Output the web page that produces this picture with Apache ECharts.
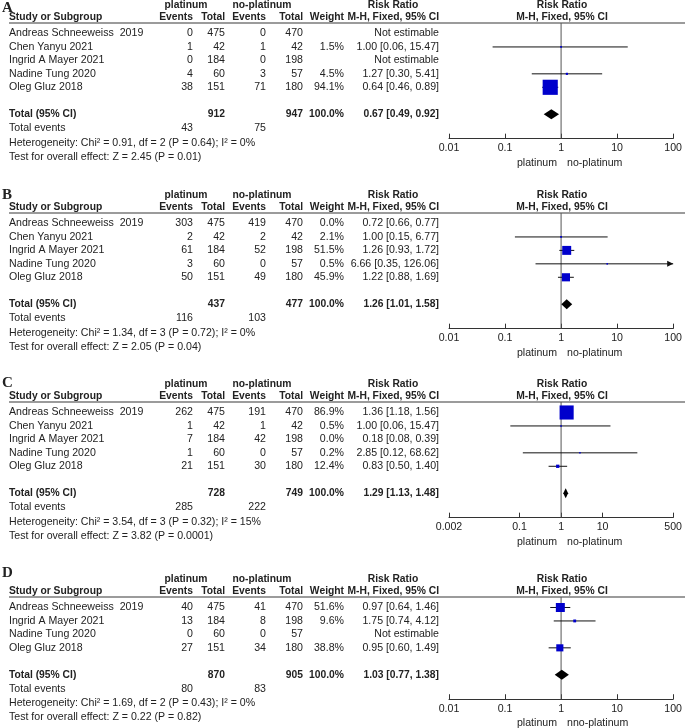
<!DOCTYPE html>
<html>
<head>
<meta charset="utf-8">
<style>html,body{margin:0;padding:0;background:#fff}#main{width:685px;height:728px}</style>
<script src="https://cdn.jsdelivr.net/npm/echarts@6/dist/echarts.min.js"></script>
</head>
<body>
<div id="main"></div>
<script>
// ---- panel A ----
const studiesA = ['Andreas Schneeweiss  2019', 'Chen Yanyu 2021', 'Ingrid A Mayer 2021', 'Nadine Tung 2020', 'Oleg Gluz 2018'];
const eventsPlatA = [0, 1, 0, 4, 38];
const totalPlatA = [475, 42, 184, 60, 151];
const eventsNoA = [0, 1, 0, 3, 71];
const totalNoA = [470, 42, 198, 57, 180];
const weightA = [null, 1.5, null, 4.5, 94.1];
const rrA = [null, 1.00, null, 1.27, 0.64];
const lowerA = [null, 0.06, null, 0.30, 0.46];
const upperA = [null, 15.47, null, 5.41, 0.89];
const totalsA = [912, 947];
const pooledA = [0.67, 0.49, 0.92];
const totalEventsA = [43, 75];
const hetA = 'Heterogeneity: Chi\u00b2 = 0.91, df = 2 (P = 0.64); I\u00b2 = 0%';
const testA = 'Test for overall effect: Z = 2.45 (P = 0.01)';

// ---- panel B ----
const studiesB = ['Andreas Schneeweiss  2019', 'Chen Yanyu 2021', 'Ingrid A Mayer 2021', 'Nadine Tung 2020', 'Oleg Gluz 2018'];
const eventsPlatB = [303, 2, 61, 3, 50];
const totalPlatB = [475, 42, 184, 60, 151];
const eventsNoB = [419, 2, 52, 0, 49];
const totalNoB = [470, 42, 198, 57, 180];
const weightB = [0.0, 2.1, 51.5, 0.5, 45.9];
const rrB = [0.72, 1.00, 1.26, 6.66, 1.22];
const lowerB = [0.66, 0.15, 0.93, 0.35, 0.88];
const upperB = [0.77, 6.77, 1.72, 126.06, 1.69];
const totalsB = [437, 477];
const pooledB = [1.26, 1.01, 1.58];
const totalEventsB = [116, 103];
const hetB = 'Heterogeneity: Chi\u00b2 = 1.34, df = 3 (P = 0.72); I\u00b2 = 0%';
const testB = 'Test for overall effect: Z = 2.05 (P = 0.04)';

// ---- panel C ----
const studiesC = ['Andreas Schneeweiss  2019', 'Chen Yanyu 2021', 'Ingrid A Mayer 2021', 'Nadine Tung 2020', 'Oleg Gluz 2018'];
const eventsPlatC = [262, 1, 7, 1, 21];
const totalPlatC = [475, 42, 184, 60, 151];
const eventsNoC = [191, 1, 42, 0, 30];
const totalNoC = [470, 42, 198, 57, 180];
const weightC = [86.9, 0.5, 0.0, 0.2, 12.4];
const rrC = [1.36, 1.00, 0.18, 2.85, 0.83];
const lowerC = [1.18, 0.06, 0.08, 0.12, 0.50];
const upperC = [1.56, 15.47, 0.39, 68.62, 1.40];
const totalsC = [728, 749];
const pooledC = [1.29, 1.13, 1.48];
const totalEventsC = [285, 222];
const hetC = 'Heterogeneity: Chi\u00b2 = 3.54, df = 3 (P = 0.32); I\u00b2 = 15%';
const testC = 'Test for overall effect: Z = 3.82 (P = 0.0001)';

// ---- panel D ----
const studiesD = ['Andreas Schneeweiss  2019', 'Ingrid A Mayer 2021', 'Nadine Tung 2020', 'Oleg Gluz 2018'];
const eventsPlatD = [40, 13, 0, 27];
const totalPlatD = [475, 184, 60, 151];
const eventsNoD = [41, 8, 0, 34];
const totalNoD = [470, 198, 57, 180];
const weightD = [51.6, 9.6, null, 38.8];
const rrD = [0.97, 1.75, null, 0.95];
const lowerD = [0.64, 0.74, null, 0.60];
const upperD = [1.46, 4.12, null, 1.49];
const totalsD = [870, 905];
const pooledD = [1.03, 0.77, 1.38];
const totalEventsD = [80, 83];
const hetD = 'Heterogeneity: Chi\u00b2 = 1.69, df = 2 (P = 0.43); I\u00b2 = 0%';
const testD = 'Test for overall effect: Z = 0.22 (P = 0.82)';

// axis tick labels
const ticksStd = [0.01, 0.1, 1, 10, 100];
const ticksC = [0.002, 0.1, 1, 10, 500];
const favoursStd = ['platinum', 'no-platinum'];
const favoursD = ['platinum', 'nno-platinum'];

const panels = [
  { letter: 'A', letterY: 8, lineY: 23, studies: studiesA, ev1: eventsPlatA, n1: totalPlatA, ev2: eventsNoA, n2: totalNoA, w: weightA, rr: rrA, lo: lowerA, hi: upperA, totals: totalsA, pooled: pooledA, tev: totalEventsA, het: hetA, test: testA, ticks: ticksStd, fav: favoursStd },
  { letter: 'B', letterY: 195, lineY: 213, studies: studiesB, ev1: eventsPlatB, n1: totalPlatB, ev2: eventsNoB, n2: totalNoB, w: weightB, rr: rrB, lo: lowerB, hi: upperB, totals: totalsB, pooled: pooledB, tev: totalEventsB, het: hetB, test: testB, ticks: ticksStd, fav: favoursStd },
  { letter: 'C', letterY: 383, lineY: 402, studies: studiesC, ev1: eventsPlatC, n1: totalPlatC, ev2: eventsNoC, n2: totalNoC, w: weightC, rr: rrC, lo: lowerC, hi: upperC, totals: totalsC, pooled: pooledC, tev: totalEventsC, het: hetC, test: testC, ticks: ticksC, fav: favoursStd },
  { letter: 'D', letterY: 573, lineY: 597, studies: studiesD, ev1: eventsPlatD, n1: totalPlatD, ev2: eventsNoD, n2: totalNoD, w: weightD, rr: rrD, lo: lowerD, hi: upperD, totals: totalsD, pooled: pooledD, tev: totalEventsD, het: hetD, test: testD, ticks: ticksStd, fav: favoursD }
];

const FAM = '"Liberation Sans", Arial, sans-serif';
const FONT = '10.6px ' + FAM;
const BOLD = 'bold 10.3px ' + FAM;
const TXT = '#222';
const ROW = 13.45;
const TOPPAD = 0.78;   // rows between header line and first study
const BOTPAD = 1.82;   // rows between total row and axis
const col = { ev1: 193, tot1: 225, ev2: 266, tot2: 303, weight: 344, ci: 439 };
const plotL = 449, plotW = 226;
const lg = (v) => Math.log10(v);

function txt(text, x, y, align, font) {
  return {
    type: 'text', silent: true,
    style: { text: String(text), x: x, y: y, align: align || 'left', verticalAlign: 'middle', font: font || FONT, fill: TXT }
  };
}
const fmtCI = (e, l, h) => e.toFixed(2) + ' [' + l.toFixed(2) + ', ' + h.toFixed(2) + ']';

const graphics = [];
const grids = [], xAxes = [], yAxes = [], series = [];

panels.forEach((p, k) => {
  const n = p.studies.length;
  const totalRow = n + 1;
  const rowY = (i) => p.lineY + (TOPPAD + i) * ROW;
  const totalY = rowY(totalRow);
  const axisY = p.lineY + (TOPPAD + totalRow + BOTPAD) * ROW;

  // header
  graphics.push(txt(p.letter, 2, p.letterY, 'left', 'bold 15px "Liberation Serif", "Times New Roman", serif'));
  graphics.push(txt('platinum', 186, p.lineY - 18, 'center', BOLD));
  graphics.push(txt('no-platinum', 262, p.lineY - 18, 'center', BOLD));
  graphics.push(txt('Risk Ratio', 393, p.lineY - 18, 'center', BOLD));
  graphics.push(txt('Risk Ratio', 562, p.lineY - 18, 'center', BOLD));
  const hy = p.lineY - 5.5;
  graphics.push(txt('Study or Subgroup', 9, hy, 'left', BOLD));
  graphics.push(txt('Events', col.ev1, hy, 'right', BOLD));
  graphics.push(txt('Total', col.tot1, hy, 'right', BOLD));
  graphics.push(txt('Events', col.ev2, hy, 'right', BOLD));
  graphics.push(txt('Total', col.tot2, hy, 'right', BOLD));
  graphics.push(txt('Weight', col.weight, hy, 'right', BOLD));
  graphics.push(txt('M-H, Fixed, 95% CI', col.ci, hy, 'right', BOLD));
  graphics.push(txt('M-H, Fixed, 95% CI', 562, hy, 'center', BOLD));
  graphics.push({ type: 'line', silent: true, shape: { x1: 9, y1: p.lineY, x2: 685, y2: p.lineY }, style: { stroke: '#7a7a7a', lineWidth: 1.5 } });

  // study rows
  p.studies.forEach((s, i) => {
    const y = rowY(i);
    graphics.push(txt(s, 9, y));
    graphics.push(txt(p.ev1[i], col.ev1, y, 'right'));
    graphics.push(txt(p.n1[i], col.tot1, y, 'right'));
    graphics.push(txt(p.ev2[i], col.ev2, y, 'right'));
    graphics.push(txt(p.n2[i], col.tot2, y, 'right'));
    if (p.w[i] !== null) graphics.push(txt(p.w[i].toFixed(1) + '%', col.weight, y, 'right'));
    graphics.push(txt(p.rr[i] === null ? 'Not estimable' : fmtCI(p.rr[i], p.lo[i], p.hi[i]), col.ci, y, 'right'));
  });

  // totals
  graphics.push(txt('Total (95% CI)', 9, totalY, 'left', BOLD));
  graphics.push(txt(p.totals[0], col.tot1, totalY, 'right', BOLD));
  graphics.push(txt(p.totals[1], col.tot2, totalY, 'right', BOLD));
  graphics.push(txt('100.0%', col.weight, totalY, 'right', BOLD));
  graphics.push(txt(fmtCI(p.pooled[0], p.pooled[1], p.pooled[2]), col.ci, totalY, 'right', BOLD));
  graphics.push(txt('Total events', 9, totalY + 14));
  graphics.push(txt(p.tev[0], col.ev1, totalY + 14, 'right'));
  graphics.push(txt(p.tev[1], col.ev2, totalY + 14, 'right'));
  graphics.push(txt(p.het, 9, totalY + 28.5));
  graphics.push(txt(p.test, 9, totalY + 42.5));

  // favours labels
  graphics.push(txt(p.fav[0], 557, axisY + 24, 'right'));
  graphics.push(txt(p.fav[1], 567, axisY + 24, 'left'));

  // forest plot coordinate system
  const ticks = p.ticks.map(lg);
  grids.push({ left: plotL, width: plotW, top: p.lineY, height: axisY - p.lineY });
  xAxes.push({
    gridIndex: k, type: 'value', position: 'bottom',
    min: ticks[0], max: ticks[ticks.length - 1],
    axisLine: { onZero: false, lineStyle: { color: '#333', width: 1 } },
    axisTick: { inside: true, length: 5, lineStyle: { color: '#333' }, customValues: ticks },
    axisLabel: {
      customValues: ticks, color: TXT, fontSize: 10.6, fontFamily: FAM, margin: 4,
      formatter: (v) => {
        const idx = ticks.findIndex((t) => Math.abs(t - v) < 1e-6);
        return idx >= 0 ? String(p.ticks[idx]) : '';
      }
    },
    splitLine: { show: false }
  });
  yAxes.push({ gridIndex: k, type: 'value', inverse: true, min: -TOPPAD, max: totalRow + BOTPAD, show: false });

  // reference line at RR = 1
  series.push({
    type: 'custom', xAxisIndex: k, yAxisIndex: k, z: 1, silent: true,
    data: [[lg(1)]],
    renderItem: (params, api) => {
      const cs = params.coordSys;
      const x = api.coord([api.value(0), 0])[0];
      return { type: 'line', shape: { x1: x, y1: cs.y, x2: x, y2: cs.y + cs.height }, style: { stroke: '#555', lineWidth: 1 } };
    }
  });

  // studies: [row, lo, est, hi, weight]
  const studyData = [];
  p.rr.forEach((r, i) => {
    if (r !== null && p.w[i] > 0) studyData.push([i, lg(p.lo[i]), lg(r), lg(p.hi[i]), p.w[i]]);
  });
  series.push({
    type: 'custom', xAxisIndex: k, yAxisIndex: k, z: 3, silent: true,
    encode: { x: [1, 2, 3], y: 0 },
    data: studyData,
    renderItem: (params, api) => {
      const cs = params.coordSys;
      const row = api.value(0);
      const pl = api.coord([api.value(1), row]);
      const pe = api.coord([api.value(2), row]);
      const ph = api.coord([api.value(3), row]);
      const xMax = cs.x + cs.width;
      const x1 = Math.max(pl[0], cs.x), x2 = Math.min(ph[0], xMax);
      const children = [
        { type: 'line', shape: { x1: x1, y1: pe[1], x2: x2, y2: pe[1] }, style: { stroke: '#111', lineWidth: 1 } }
      ];
      if (ph[0] > xMax) {
        children.push({ type: 'polygon', shape: { points: [[xMax, pe[1]], [xMax - 6, pe[1] - 3], [xMax - 6, pe[1] + 3]] }, style: { fill: '#111' } });
      }
      const s = 1.5 + 0.145 * api.value(4);
      children.push({ type: 'rect', shape: { x: pe[0] - s / 2, y: pe[1] - s / 2, width: s, height: s }, style: { fill: '#0000cc' } });
      return { type: 'group', children: children };
    }
  });

  // pooled diamond: [row, lo, est, hi]
  series.push({
    type: 'custom', xAxisIndex: k, yAxisIndex: k, z: 3, silent: true,
    encode: { x: [1, 2, 3], y: 0 },
    data: [[totalRow, lg(p.pooled[1]), lg(p.pooled[0]), lg(p.pooled[2])]],
    renderItem: (params, api) => {
      const row = api.value(0);
      const pl = api.coord([api.value(1), row]);
      const pe = api.coord([api.value(2), row]);
      const ph = api.coord([api.value(3), row]);
      const h = 5;
      return {
        type: 'polygon',
        shape: { points: [[pl[0], pe[1]], [pe[0], pe[1] - h], [ph[0], pe[1]], [pe[0], pe[1] + h]] },
        style: { fill: '#000' }
      };
    }
  });
});

const chart = echarts.init(document.getElementById('main'));
chart.setOption({
  backgroundColor: '#fff',
  animation: false,
  grid: grids,
  xAxis: xAxes,
  yAxis: yAxes,
  series: series,
  graphic: { elements: graphics }
});
</script>
</body>
</html>
